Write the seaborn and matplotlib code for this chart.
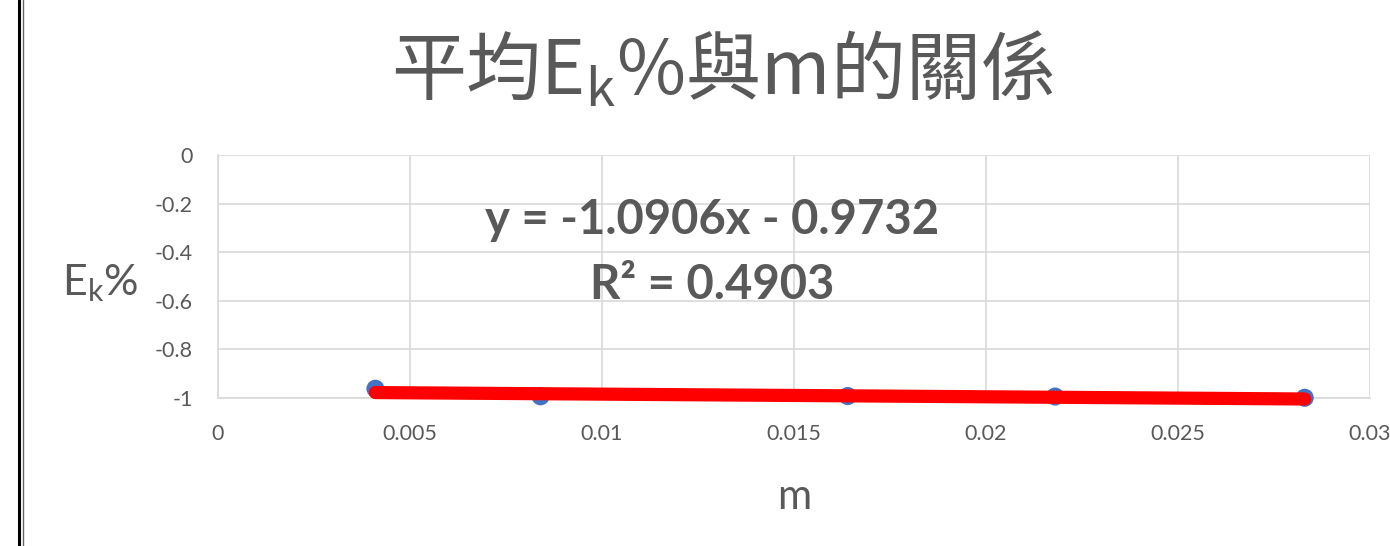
import numpy as np
import pandas as pd
import matplotlib
matplotlib.use("Agg")
import matplotlib.pyplot as plt
from matplotlib.lines import Line2D
import seaborn as sns

# measured values
m_values = [0.0041, 0.0084, 0.0164, 0.0218, 0.0283]
ek_values = [-0.962, -0.993, -0.992, -0.994, -0.999]

# linear trendline coefficients
slope = -1.0906
intercept = -0.9732
r_squared = 0.4903

x_ticks = [0, 0.005, 0.01, 0.015, 0.02, 0.025, 0.03]
x_tick_labels = ["0", "0.005", "0.01", "0.015", "0.02", "0.025", "0.03"]
y_ticks = [0, -0.2, -0.4, -0.6, -0.8, -1]
y_tick_labels = ["0", "-0.2", "-0.4", "-0.6", "-0.8", "-1"]

sns.set_theme(style="white")
plt.rcParams["font.family"] = ["Lato", "Noto Sans CJK TC", "DejaVu Sans"]
plt.rcParams["mathtext.fontset"] = "custom"
plt.rcParams["mathtext.rm"] = "Lato"

gray = "#595959"
grid = "#d9d9d9"

fig = plt.figure(figsize=(13.9, 5.46), dpi=100)
fig.patch.set_facecolor("white")
ax = fig.add_axes([218 / 1390, 1 - 398 / 546, (1370 - 218) / 1390, (398 - 155) / 546])

df = pd.DataFrame({"m": m_values, "ek": ek_values})
sns.scatterplot(data=df, x="m", y="ek", ax=ax, s=170, color="#4472C4",
                edgecolor="none", zorder=3, clip_on=False)

trend_x = np.array([min(m_values), max(m_values)])
trend = pd.DataFrame({"m": trend_x, "ek": slope * trend_x + intercept})
sns.lineplot(data=trend, x="m", y="ek", ax=ax, color="#ff0000", linewidth=9.5,
             solid_capstyle="round", zorder=4, clip_on=False)

ax.set_xlim(0, 0.03)
ax.set_ylim(-1, 0)
ax.set_xticks(x_ticks)
ax.set_xticklabels(x_tick_labels)
ax.set_yticks(y_ticks)
ax.set_yticklabels(y_tick_labels)
ax.tick_params(axis="both", length=0, labelsize=15.5, labelcolor=gray)
ax.tick_params(axis="y", pad=18)
ax.tick_params(axis="x", pad=19)
ax.grid(True, color=grid, linewidth=1.2)
ax.set_axisbelow(True)
for side in ["top", "right"]:
    ax.spines[side].set_visible(False)
for side in ["left", "bottom"]:
    ax.spines[side].set_color(grid)
    ax.spines[side].set_linewidth(1.2)

ax.set_xlabel("m", fontsize=30, color=gray, labelpad=24)
ax.set_ylabel("")
fig.text(100 / 1390, 1 - 283 / 546, r"E$_\mathregular{k}$%", fontsize=31,
         color=gray, ha="center", va="center")

fig.text(722 / 1390, 1 - 72 / 546, r"平均E$_\mathregular{k}$%與m的關係",
         fontsize=54, color=gray, ha="center", va="center", fontweight="light",
         family=["Noto Sans CJK TC", "DejaVu Sans"])

ax.text(712 / 1390, 1 - 220 / 546, f"y = {slope:.4f}x - {abs(intercept):.4f}",
        transform=fig.transFigure, fontsize=34, fontweight="bold", color=gray,
        ha="center", va="center")
ax.text(712 / 1390, 1 - 285 / 546, f"R² = {r_squared:.4f}",
        transform=fig.transFigure, fontsize=34, fontweight="bold", color=gray,
        ha="center", va="center")

# double frame line on the left edge
fig.add_artist(Line2D([19 / 1390, 19 / 1390], [0, 1], color="black", linewidth=2.2))
fig.add_artist(Line2D([22.5 / 1390, 22.5 / 1390], [0, 1], color="#666666", linewidth=1))

fig.savefig("out.png", dpi=100)
